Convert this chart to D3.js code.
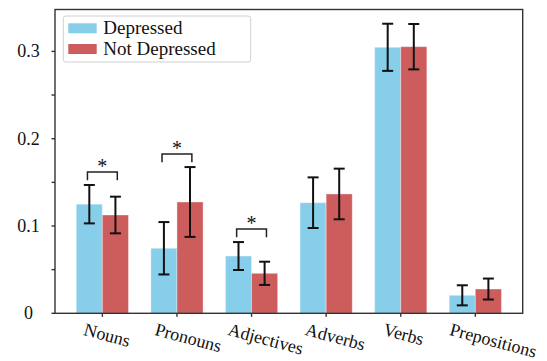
<!DOCTYPE html>
<html>
<head>
<meta charset="utf-8">
<script src="https://cdn.jsdelivr.net/npm/d3@7"></script>
<style>
  body { margin: 0; background: #fff; }
</style>
</head>
<body>
<div id="chart"></div>
<script>
// categories and values
const categories = ["Nouns", "Pronouns", "Adjectives", "Adverbs", "Verbs", "Prepositions"];
const depressed = [0.125, 0.0745, 0.0656, 0.1267, 0.3047, 0.0206];
const depressedErr = [0.022, 0.030, 0.016, 0.029, 0.027, 0.0115];
const notDepressed = [0.1126, 0.1275, 0.0458, 0.1367, 0.3054, 0.0278];
const notDepressedErr = [0.021, 0.040, 0.0133, 0.029, 0.026, 0.012];
const significant = ["Nouns", "Pronouns", "Adjectives"];
const yTicks = [0, 0.1, 0.2, 0.3];
const yMinorTicks = [0.05, 0.15, 0.25];

const W = 547, H = 361;
const margin = { top: 9.5, right: 24.3, bottom: 47.7, left: 55 };
const width = W - margin.left - margin.right;
const height = H - margin.top - margin.bottom;
const barW = 0.35;
const serif = '"Liberation Serif"';

const svg = d3.select("#chart").append("svg")
  .attr("width", W)
  .attr("height", H);

const g = svg.append("g")
  .attr("transform", `translate(${margin.left},${margin.top})`);

// x is category index, with matplotlib-like margins
const pad = (categories.length - 1 + 2 * barW) * 0.05;
const x = d3.scaleLinear()
  .domain([-barW - pad, categories.length - 1 + barW + pad])
  .range([0, width]);

const y = d3.scaleLinear()
  .domain([0, 0.348])
  .range([height, 0]);

const series = [
  { name: "Depressed", values: depressed, err: depressedErr, color: "#87CEEB", off: -barW },
  { name: "Not Depressed", values: notDepressed, err: notDepressedErr, color: "#CD5C5C", off: 0 }
];

// bars
series.forEach(s => {
  g.selectAll(null)
    .data(s.values)
    .enter()
    .append("rect")
    .attr("x", (d, i) => x(i + s.off))
    .attr("y", d => y(d))
    .attr("width", x(barW) - x(0))
    .attr("height", d => y(0) - y(d))
    .attr("fill", s.color)
    .attr("stroke", "#fff")
    .attr("stroke-opacity", 0.35)
    .attr("stroke-width", 1);
});

// error bars
const cap = 5.5;
series.forEach(s => {
  const eb = g.selectAll(null)
    .data(s.values.map((v, i) => ({ i: i, v: v, e: s.err[i] })))
    .enter()
    .append("g")
    .attr("stroke", "#111")
    .attr("stroke-width", 2);
  const cx = d => x(d.i + s.off + barW / 2);
  eb.append("line")
    .attr("x1", cx).attr("x2", cx)
    .attr("y1", d => y(d.v - d.e)).attr("y2", d => y(d.v + d.e));
  eb.append("line")
    .attr("x1", d => cx(d) - cap).attr("x2", d => cx(d) + cap)
    .attr("y1", d => y(d.v - d.e)).attr("y2", d => y(d.v - d.e));
  eb.append("line")
    .attr("x1", d => cx(d) - cap).attr("x2", d => cx(d) + cap)
    .attr("y1", d => y(d.v + d.e)).attr("y2", d => y(d.v + d.e));
});

// significance brackets
significant.forEach(name => {
  const i = categories.indexOf(name);
  const top = Math.max(depressed[i] + depressedErr[i], notDepressed[i] + notDepressedErr[i]) + 0.015;
  const leg = 0.0095;
  g.append("path")
    .attr("d", d3.line()([
      [x(i - 0.2), y(top - leg)],
      [x(i - 0.2), y(top)],
      [x(i + 0.2), y(top)],
      [x(i + 0.2), y(top - leg)]
    ]))
    .attr("fill", "none")
    .attr("stroke", "#222")
    .attr("stroke-width", 1.5);
  g.append("text")
    .attr("x", x(i))
    .attr("y", y(top) + 1)
    .attr("text-anchor", "middle")
    .style("font-family", serif)
    .style("font-size", "20px")
    .attr("fill", "#111")
    .text("*");
});

// spines
g.append("rect")
  .attr("x", 0).attr("y", 0)
  .attr("width", width).attr("height", height)
  .attr("fill", "none")
  .attr("stroke", "#333")
  .attr("stroke-width", 1.4);

// y ticks
const yAxis = g.append("g");
yAxis.selectAll("line")
  .data(yTicks.concat(yMinorTicks))
  .enter()
  .append("line")
  .attr("x1", -3.5).attr("x2", 0)
  .attr("y1", d => y(d)).attr("y2", d => y(d))
  .attr("stroke", "#333")
  .attr("stroke-width", 1.4);
yAxis.selectAll("text")
  .data(yTicks)
  .enter()
  .append("text")
  .attr("x", -26.5)
  .attr("y", d => y(d) + 6)
  .attr("text-anchor", "middle")
  .style("font-family", serif)
  .style("font-size", "18px")
  .attr("fill", "#111")
  .text(d => d3.format("")(+d.toFixed(1)));

// x ticks and rotated labels
const xAxis = g.append("g").attr("transform", `translate(0,${height})`);
xAxis.selectAll("line")
  .data(categories)
  .enter()
  .append("line")
  .attr("x1", (d, i) => x(i)).attr("x2", (d, i) => x(i))
  .attr("y1", 0).attr("y2", 3.5)
  .attr("stroke", "#333")
  .attr("stroke-width", 1.4);
xAxis.selectAll("text")
  .data(categories)
  .enter()
  .append("text")
  .style("font-family", serif)
  .style("font-size", "18px")
  .attr("fill", "#111")
  .text(d => d)
  .each(function (d, i) {
    const w = this.getComputedTextLength();
    const x0 = x(i) - (0.17 * w + 11.5);
    const y0 = 21.5;
    d3.select(this)
      .attr("x", x0).attr("y", y0)
      .attr("transform", `rotate(15,${x0},${y0})`);
  });

// legend
const legend = g.append("g").attr("transform", "translate(8.3,6.5)");
legend.append("rect")
  .attr("width", 187.4).attr("height", 46)
  .attr("rx", 2.5)
  .attr("fill", "#fff")
  .attr("fill-opacity", 0.8)
  .attr("stroke", "#d0d0d0")
  .attr("stroke-width", 1);
series.forEach((s, k) => {
  legend.append("rect")
    .attr("x", 5).attr("y", 7.3 + k * 20.7)
    .attr("width", 28.4).attr("height", 10)
    .attr("fill", s.color);
  legend.append("text")
    .attr("x", 40).attr("y", 18.3 + k * 20.7)
    .style("font-family", serif)
    .style("font-size", "19px")
    .attr("fill", "#111")
    .text(s.name);
});
</script>
</body>
</html>
